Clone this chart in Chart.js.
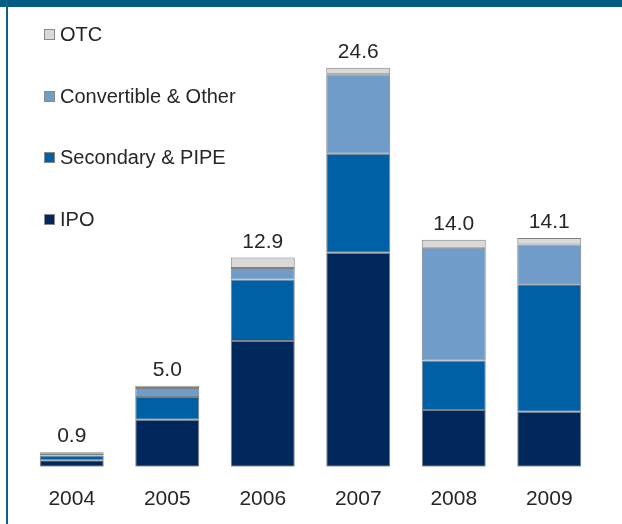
<!DOCTYPE html>
<html>
<head>
<meta charset="utf-8">
<script src="https://cdn.jsdelivr.net/npm/chart.js@4/dist/chart.umd.min.js"></script>
<style>
  html, body { margin: 0; padding: 0; background: #ffffff; overflow: hidden; }
  #wrap { position: relative; width: 622px; height: 524px; overflow: hidden; font-family: "Liberation Sans", Arial, sans-serif; }
  #c { position: absolute; left: 0; top: 0; }
  .band { position: absolute; left: 0; top: 0; width: 622px; height: 7px; background: #035c81; }
  .lline { position: absolute; left: 6px; top: 0; width: 2px; height: 524px; background: #0b6286; }
  .sw { position: absolute; width: 9px; height: 9px; border: 1px solid #8a8a8a; }
  .lt { position: absolute; left: 60px; font-size: 20px; line-height: 22px; color: #262626; white-space: nowrap; }
</style>
</head>
<body>
<div id="wrap">
  <canvas id="c" width="622" height="545"></canvas>
  <div class="band"></div>
  <div class="lline"></div>
  <div id="legend"></div>
</div>
<script>
const categories = ["2004", "2005", "2006", "2007", "2008", "2009"];
const ipo         = [0.4, 2.9, 7.75, 13.2, 3.5, 3.4];
const secondary   = [0.3, 1.4, 3.8, 6.1, 3.05, 7.85];
const convertible = [0.1, 0.55, 0.7, 4.9, 6.95, 2.45];
const otc         = [0.1, 0.15, 0.65, 0.4, 0.5, 0.4];
const totals      = ["0.9", "5.0", "12.9", "24.6", "14.0", "14.1"];
const seriesNames = ["IPO", "Secondary & PIPE", "Convertible & Other", "OTC"];
const seriesColors = ["#00285c", "#0060a6", "#6f9cc9", "#d9d9d9"];

// HTML legend (top item = OTC)
const legendEl = document.getElementById('legend');
const legendTops = [23, 84.5, 146, 207.5];
[3, 2, 1, 0].forEach((si, i) => {
  const sw = document.createElement('div');
  sw.className = 'sw';
  sw.style.left = '44px';
  sw.style.top = (legendTops[i] + 6) + 'px';
  sw.style.background = seriesColors[si];
  legendEl.appendChild(sw);
  const t = document.createElement('div');
  t.className = 'lt';
  t.style.top = legendTops[i] + 'px';
  t.textContent = seriesNames[si];
  legendEl.appendChild(t);
});

const totalsPlugin = {
  id: 'totals',
  afterDatasetsDraw(chart) {
    const ctx = chart.ctx;
    const meta = chart.getDatasetMeta(chart.data.datasets.length - 1);
    ctx.save();
    ctx.font = '21px "Liberation Sans", Arial, sans-serif';
    ctx.fillStyle = '#262626';
    ctx.textAlign = 'center';
    ctx.textBaseline = 'alphabetic';
    meta.data.forEach((bar, i) => {
      ctx.fillText(totals[i], bar.x, bar.y - 10);
    });
    ctx.restore();
  }
};

const dataArrays = [ipo, secondary, convertible, otc];
new Chart(document.getElementById('c'), {
  type: 'bar',
  data: {
    labels: categories,
    datasets: dataArrays.map((d, i) => ({
      label: seriesNames[i],
      data: d,
      backgroundColor: seriesColors[i],
      borderColor: '#7f7f7f',
      borderWidth: 1,
      borderSkipped: false,
      barPercentage: 0.67,
      categoryPercentage: 1.0
    }))
  },
  options: {
    responsive: false,
    animation: false,
    devicePixelRatio: 1,
    layout: { padding: { left: 24, right: 25, top: 45, bottom: 13 } },
    plugins: { legend: { display: false }, tooltip: { enabled: false } },
    scales: {
      x: {
        stacked: true,
        grid: { display: false, drawTicks: false },
        border: { display: false },
        ticks: {
          padding: 20,
          color: '#262626',
          font: { family: '"Liberation Sans", Arial, sans-serif', size: 21 }
        }
      },
      y: {
        stacked: true,
        display: false,
        min: 0,
        max: 26
      }
    }
  },
  plugins: [totalsPlugin]
});
</script>
</body>
</html>
